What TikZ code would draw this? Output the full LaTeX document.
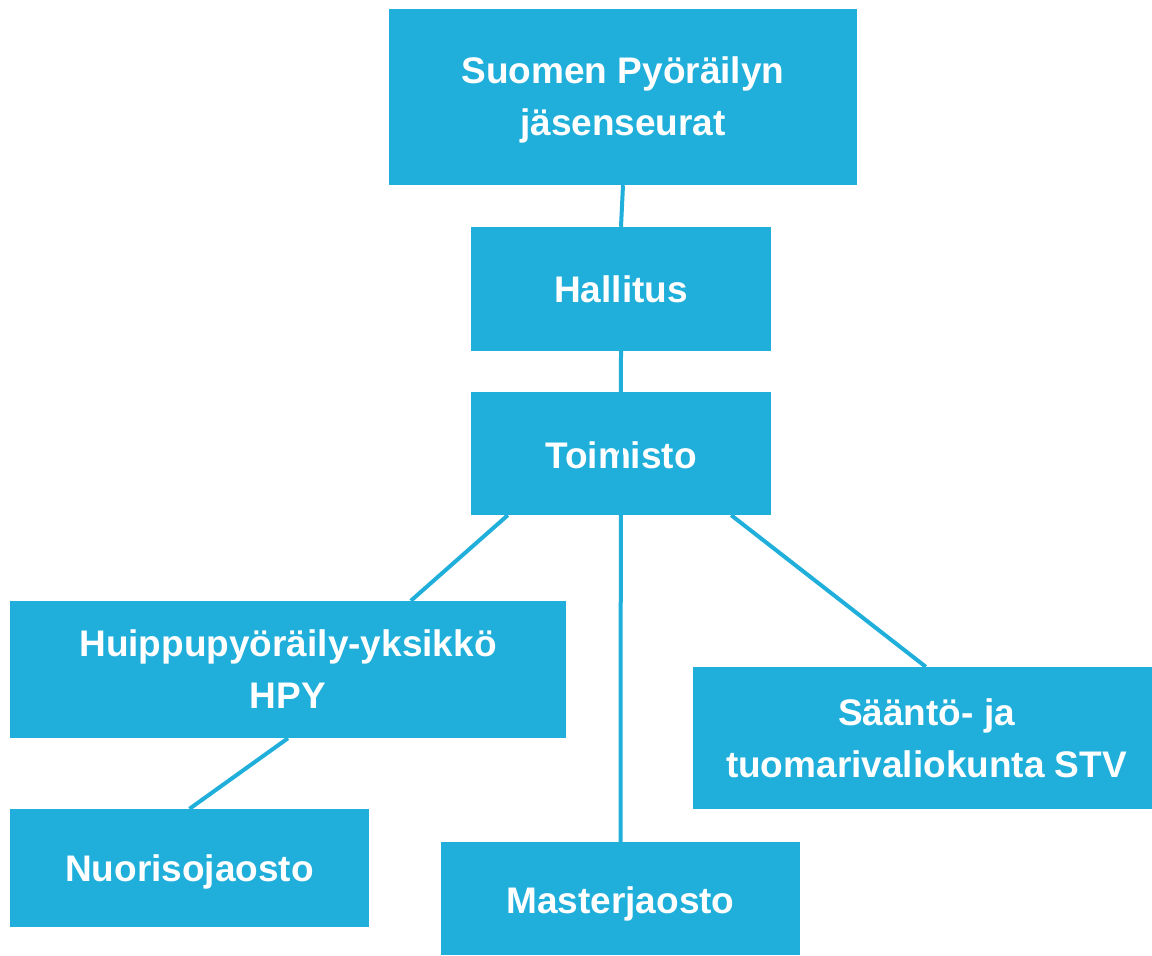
\documentclass[tikz,border=0pt]{standalone}
\usepackage{fontspec}
\setmainfont{Liberation Sans}
\definecolor{boxblue}{HTML}{20AFDB}
\begin{document}
\begin{tikzpicture}[x=1pt,y=-1pt,
  orgbox/.style={rectangle,fill=boxblue,draw=none,inner sep=0pt},
  orgtext/.style={inner sep=0pt,align=center,text=white,font=\fontsize{37}{52}\selectfont\bfseries},
  link/.style={draw=boxblue,line width=4pt}]
\useasboundingbox (0,0) rectangle (1152,956);
\node[orgbox,minimum width=468,minimum height=176,
  label={[orgtext,yshift=-3pt]center:Suomen Pyöräilyn\\jäsenseurat}] (suomen) at (623,97) {};
\node[orgbox,minimum width=300,minimum height=124,
  label={[orgtext]center:Hallitus}] (hallitus) at (621,289) {};
\node[orgbox,minimum width=300,minimum height=123,
  label={[orgtext,yshift=-2pt]center:Toimisto}] (toimisto) at (621,453.5) {};
\node[orgbox,minimum width=556,minimum height=137,
  label={[orgtext]center:Huippupyöräily-yksikkö\\HPY}] (hpy) at (288,669.5) {};
\node[orgbox,minimum width=459,minimum height=142,
  label={[orgtext,xshift=4pt]center:Sääntö- ja\\tuomarivaliokunta STV}] (stv) at (922.5,738) {};
\node[orgbox,minimum width=359,minimum height=118,
  label={[orgtext,yshift=-4pt]center:Nuorisojaosto}] (nuoriso) at (189.5,868) {};
\node[orgbox,minimum width=359,minimum height=113,
  label={[orgtext,yshift=-5pt]center:Masterjaosto}] (master) at (620.5,898.5) {};
\draw[link] (suomen.south) -- (hallitus.north);
\draw[link] (hallitus.south) -- (master.north);
\draw[link] ([xshift=37]toimisto.south west) -- ([xshift=401]hpy.north west);
\draw[link] ([xshift=-40]toimisto.south east) -- ([xshift=233]stv.north west);
\draw[link] (hpy.south) -- (nuoriso.north);
\end{tikzpicture}
\end{document}
